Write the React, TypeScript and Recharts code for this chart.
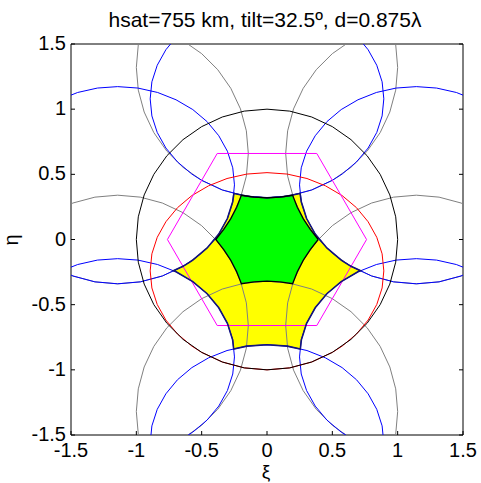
import { ScatterChart, Scatter, XAxis, YAxis } from "recharts";

const titleText = "hsat=755 km, tilt=32.5º, d=0.875λ";
const xLabel = "ξ";
const yLabel = "η";
const tickValues = [-1.5, -1, -0.5, 0, 0.5, 1, 1.5];

// grating lobe positions (hex lattice)
const latticeOffsets = [
  [0, 1.32],
  [-1.143, 0.66],
  [-1.143, -0.66],
  [0, -1.32],
  [1.143, -0.66],
  [1.143, 0.66],
];

// visible region |(xi, eta)| = 1
const unitCircle = [
  [1, 0], [0.985, 0.174], [0.94, 0.342], [0.866, 0.5], [0.766, 0.643], [0.643, 0.766],
  [0.5, 0.866], [0.342, 0.94], [0.174, 0.985], [0, 1], [-0.174, 0.985], [-0.342, 0.94],
  [-0.5, 0.866], [-0.643, 0.766], [-0.766, 0.643], [-0.866, 0.5], [-0.94, 0.342], [-0.985, 0.174],
  [-1, 0], [-0.985, -0.174], [-0.94, -0.342], [-0.866, -0.5], [-0.766, -0.643], [-0.643, -0.766],
  [-0.5, -0.866], [-0.342, -0.94], [-0.174, -0.985], [0, -1], [0.174, -0.985], [0.342, -0.94],
  [0.5, -0.866], [0.643, -0.766], [0.766, -0.643], [0.866, -0.5], [0.94, -0.342], [0.985, -0.174],
  [1, 0],
];

// earth disc seen from the satellite (red)
const earthOutline = [
  [0.575, -0.818], [0.685, -0.725], [0.774, -0.618], [0.84, -0.499], [0.881, -0.372],
  [0.894, -0.241], [0.881, -0.11], [0.84, 0.017], [0.774, 0.136], [0.685, 0.244],
  [0.575, 0.337], [0.447, 0.412], [0.306, 0.468], [0.155, 0.502], [0, 0.513],
  [-0.155, 0.502], [-0.306, 0.468], [-0.447, 0.412], [-0.575, 0.337], [-0.685, 0.244],
  [-0.774, 0.136], [-0.84, 0.017], [-0.881, -0.11], [-0.894, -0.241], [-0.881, -0.372],
  [-0.84, -0.499], [-0.774, -0.618], [-0.685, -0.725], [-0.575, -0.818],
  [-0.5, -0.866], [-0.342, -0.94], [-0.174, -0.985], [0, -1], [0.174, -0.985],
  [0.342, -0.94], [0.5, -0.866], [0.575, -0.818],
];

// magenta hexagon
const hexagon = [
  [0.762, 0], [0.381, 0.66], [-0.381, 0.66], [-0.762, 0], [-0.381, -0.66], [0.381, -0.66], [0.762, 0],
];

// yellow region
const yellowRegion = [
  [-0.253, 0.353], [-0.127, 0.328], [0, 0.32], [0.127, 0.328], [0.253, 0.353],
  [0.263, 0.288], [0.303, 0.161], [0.369, 0.042], [0.458, -0.065], [0.568, -0.158],
  [0.591, -0.174], [0.643, -0.206], [0.716, -0.24],
  [0.696, -0.248], [0.568, -0.323], [0.458, -0.416], [0.369, -0.524], [0.303, -0.643],
  [0.263, -0.77], [0.255, -0.841],
  [0.155, -0.818], [0, -0.807], [-0.155, -0.818], [-0.255, -0.841],
  [-0.263, -0.77], [-0.303, -0.643], [-0.369, -0.524], [-0.458, -0.416], [-0.568, -0.323],
  [-0.696, -0.248], [-0.716, -0.24],
  [-0.643, -0.206], [-0.591, -0.174], [-0.568, -0.158], [-0.458, -0.065], [-0.369, 0.042],
  [-0.303, 0.161], [-0.263, 0.288], [-0.253, 0.353],
];

// green region
const greenRegion = [
  [0.392, 0], [0.331, 0.077], [0.277, 0.16], [0.232, 0.248], [0.196, 0.339],
  [0.099, 0.325], [0, 0.32], [-0.099, 0.325], [-0.196, 0.339], [-0.232, 0.248],
  [-0.277, 0.16], [-0.331, 0.077], [-0.392, 0], [-0.331, -0.077], [-0.277, -0.16],
  [-0.232, -0.248], [-0.196, -0.339], [-0.099, -0.325], [0, -0.32], [0.099, -0.325],
  [0.196, -0.339], [0.232, -0.248], [0.277, -0.16], [0.331, -0.077], [0.392, 0],
];

const FONT = '"Liberation Sans", Arial, Helvetica, sans-serif';

const pts = (arr: number[][], dx = 0, dy = 0) =>
  arr.map(([x, y]) => ({ x: x + dx, y: y + dy }));

function NoDot() {
  return <g />;
}

function fillShape(fill: string) {
  return (p: any) => {
    const list = (p.points || []) as { x: number; y: number }[];
    const d = list.map((q, i) => `${i ? "L" : "M"}${q.x},${q.y}`).join(" ") + " Z";
    return <path d={d} fill={fill} stroke="none" />;
  };
}

function BottomTick({ x, y, payload }: any) {
  return (
    <g>
      <line x1={x} y1={y} x2={x} y2={y - 4} stroke="#000" />
      <text x={x} y={y + 22} textAnchor="middle" fontSize={20} fontFamily={FONT} fill="#000">
        {String(payload.value)}
      </text>
    </g>
  );
}

function LeftTick({ x, y, payload }: any) {
  return (
    <g>
      <line x1={x} y1={y} x2={x + 4} y2={y} stroke="#000" />
      <text x={x - 5} y={y + 6} textAnchor="end" fontSize={20} fontFamily={FONT} fill="#000">
        {String(payload.value)}
      </text>
    </g>
  );
}

function TopTick({ x, y }: any) {
  return <line x1={x} y1={y} x2={x} y2={y + 4} stroke="#000" />;
}

function RightTick({ x, y }: any) {
  return <line x1={x} y1={y} x2={x - 4} y2={y} stroke="#000" />;
}

export default function App() {
  const lineSeries = (data: number[][], color: string, key: string, dx = 0, dy = 0, w = 1) => (
    <Scatter
      key={key}
      data={pts(data, dx, dy)}
      line={{ stroke: color, strokeWidth: w }}
      shape={NoDot}
      fill="none"
      isAnimationActive={false}
    />
  );

  return (
    <div style={{ position: "absolute", left: 0, top: 0, width: 481, height: 483, background: "#fff" }}>
      <ScatterChart width={481} height={483} margin={{ top: 43, right: 17, bottom: 47, left: 70 }}>
        <XAxis
          type="number"
          dataKey="x"
          domain={[-1.5, 1.5]}
          ticks={tickValues}
          interval={0}
          allowDataOverflow
          height={1}
          tickSize={0}
          tickMargin={0}
          tickLine={false}
          axisLine={{ stroke: "#000" }}
          tick={<BottomTick />}
        />
        <XAxis
          xAxisId="top"
          orientation="top"
          type="number"
          domain={[-1.5, 1.5]}
          ticks={tickValues}
          interval={0}
          allowDataOverflow
          height={1}
          tickSize={0}
          tickMargin={0}
          tickLine={false}
          axisLine={{ stroke: "#000" }}
          tick={<TopTick />}
        />
        <YAxis
          type="number"
          dataKey="y"
          domain={[-1.5, 1.5]}
          ticks={tickValues}
          interval={0}
          allowDataOverflow
          width={1}
          tickSize={0}
          tickMargin={0}
          tickLine={false}
          axisLine={{ stroke: "#000" }}
          tick={<LeftTick />}
        />
        <YAxis
          yAxisId="right"
          orientation="right"
          type="number"
          domain={[-1.5, 1.5]}
          ticks={tickValues}
          interval={0}
          allowDataOverflow
          width={1}
          tickSize={0}
          tickMargin={0}
          tickLine={false}
          axisLine={{ stroke: "#000" }}
          tick={<RightTick />}
        />

        <Scatter data={pts(yellowRegion)} line={fillShape("#ffff00")} shape={NoDot} isAnimationActive={false} />
        <Scatter data={pts(greenRegion)} line={fillShape("#00ff00")} shape={NoDot} isAnimationActive={false} />

        {latticeOffsets.map(([dx, dy], i) => lineSeries(unitCircle, "#808080", `g${i}`, dx, dy))}
        {latticeOffsets.map(([dx, dy], i) => lineSeries(earthOutline, "#0000ff", `b${i}`, dx, dy))}
        {lineSeries(earthOutline, "#ff0000", "red")}
        {lineSeries(unitCircle, "#000000", "black")}
        {lineSeries(hexagon, "#ff00ff", "hex")}
        {lineSeries(yellowRegion, "#14147a", "yedge", 0, 0, 1.6)}
        {lineSeries(greenRegion, "#000000", "gedge", 0, 0, 1.3)}
      </ScatterChart>

      <svg
        width={481}
        height={483}
        style={{ position: "absolute", left: 0, top: 0, pointerEvents: "none" }}
      >
        <text x={265} y={27} textAnchor="middle" fontSize={21} fontFamily={FONT} fill="#000">
          {titleText}
        </text>
        <text x={266} y={478} textAnchor="middle" fontSize={19} fontFamily={FONT} fill="#000">
          {xLabel}
        </text>
        <text transform="translate(18,240) rotate(-90)" textAnchor="middle" fontSize={20} fontFamily={FONT} fill="#000">
          {yLabel}
        </text>
      </svg>
    </div>
  );
}
